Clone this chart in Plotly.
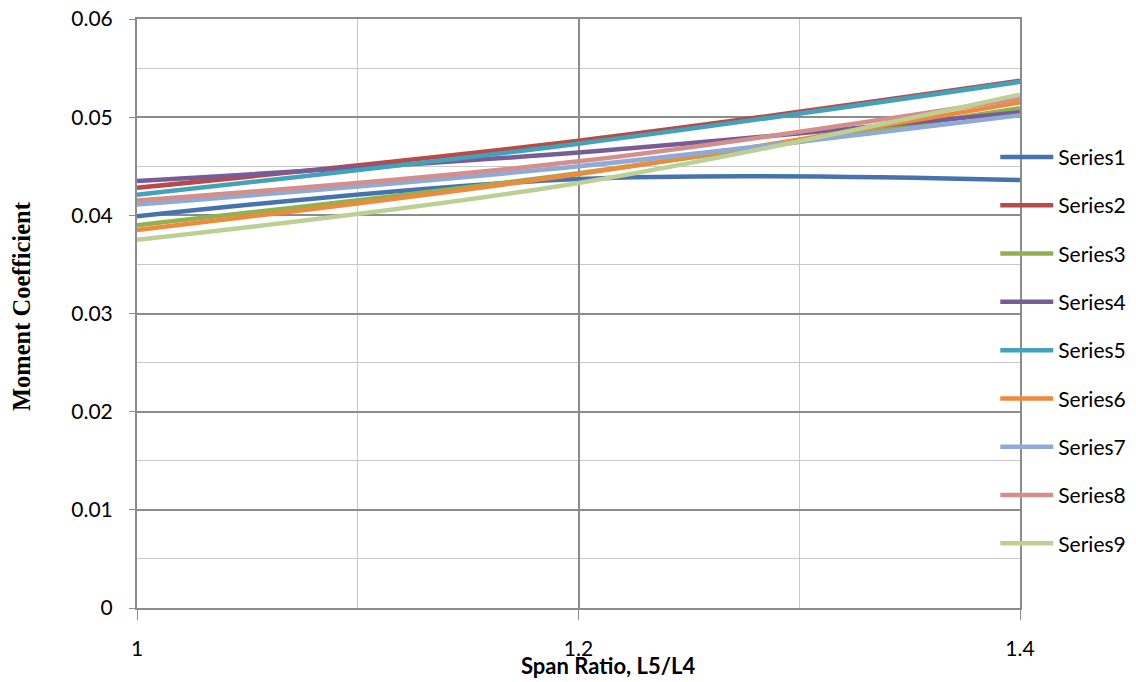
import plotly.graph_objects as go

span_ratio = [1.0, 1.2, 1.4]

series_names = ["Series1", "Series2", "Series3", "Series4", "Series5",
                "Series6", "Series7", "Series8", "Series9"]

s1 = [0.0399, 0.0437, 0.0436]
s2 = [0.0428, 0.0476, 0.0537]
s3 = [0.0390, 0.0443, 0.0509]
s4 = [0.0435, 0.0464, 0.0505]
s5 = [0.0421, 0.0473, 0.0536]
s6 = [0.0385, 0.0442, 0.0515]
s7 = [0.0411, 0.0450, 0.0502]
s8 = [0.0415, 0.0455, 0.0519]
s9 = [0.0375, 0.0433, 0.0523]

series_values = [s1, s2, s3, s4, s5, s6, s7, s8, s9]

colors = ["#4573AD", "#B84A47", "#92B050", "#785C98", "#43A2BA",
          "#EE8A3C", "#8FAAD4", "#D48F8D", "#BCD096"]

y_ticks = [0, 0.01, 0.02, 0.03, 0.04, 0.05, 0.06]
y_tick_labels = ["0", "0.01", "0.02", "0.03", "0.04", "0.05", "0.06"]
x_ticks = [1.0, 1.2, 1.4]
x_tick_labels = ["1", "1.2", "1.4"]

TICK_FONT = "Lato, Liberation Sans, sans-serif"

fig = go.Figure()
for name, vals, col in zip(series_names, series_values, colors):
    fig.add_trace(go.Scatter(
        x=span_ratio, y=vals, name=name, mode="lines",
        line=dict(color=col, width=4.5, shape="spline", smoothing=1),
        legendgroup=name,
    ))

fig.update_layout(
    width=1136, height=682,
    margin=dict(l=129, r=124, t=11, b=82),
    paper_bgcolor="white", plot_bgcolor="white",
    font=dict(family=TICK_FONT, size=21, color="black"),
    legend=dict(
        x=0.972, xanchor="left", y=0.80, yanchor="top",
        font=dict(family=TICK_FONT, size=21),
        tracegroupgap=18, itemwidth=53, bgcolor="rgba(0,0,0,0)",
    ),
    showlegend=True,
)

fig.update_xaxes(
    range=[1.0, 1.4], tickvals=x_ticks, ticktext=x_tick_labels,
    automargin=False, ticklabeloverflow="allow",
    showgrid=True, gridcolor="#8C8C8C", gridwidth=1.5,
    minor=dict(dtick=0.1, tick0=1.0, showgrid=True, gridcolor="#C8C8C8", gridwidth=1),
    showline=True, linecolor="#8C8C8C", linewidth=1.5, mirror=True,
    ticks="outside", ticklen=10, tickcolor="#8C8C8C",
    ticklabelstandoff=11, zeroline=False,
    tickfont=dict(family=TICK_FONT, size=21),
)
fig.update_yaxes(
    range=[0, 0.06], tickvals=y_ticks, ticktext=y_tick_labels,
    automargin=False, ticklabeloverflow="allow",
    showgrid=True, gridcolor="#8C8C8C", gridwidth=1.5,
    minor=dict(dtick=0.005, tick0=0, showgrid=True, gridcolor="#C8C8C8", gridwidth=1),
    showline=True, linecolor="#8C8C8C", linewidth=2, mirror=True,
    ticks="outside", ticklen=6, tickcolor="#8C8C8C",
    ticklabelstandoff=12, zeroline=False,
    tickfont=dict(family=TICK_FONT, size=21),
)

fig.add_annotation(
    text="<b>Span Ratio, L5/L4</b>", xref="paper", yref="paper",
    x=0.533, y=-0.098, xanchor="center", yanchor="middle", showarrow=False,
    font=dict(family="Lato, Liberation Sans, sans-serif", size=22, color="black"),
)
fig.add_annotation(
    text="<b>Moment Coefficient</b>", xref="paper", yref="paper",
    x=-0.130, y=0.513, xanchor="center", yanchor="middle", showarrow=False,
    textangle=-90,
    font=dict(family="Liberation Serif, Times New Roman, serif", size=24.5, color="black"),
)

fig.write_html("out.html")
